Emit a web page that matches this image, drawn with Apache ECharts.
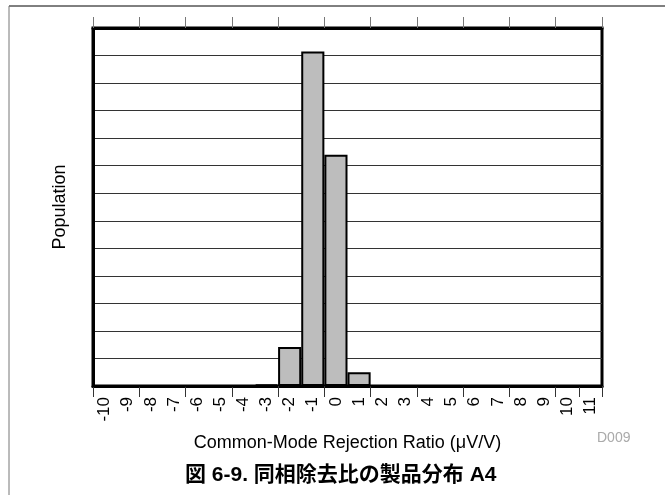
<!DOCTYPE html>
<html>
<head>
<meta charset="utf-8">
<script src="https://cdn.jsdelivr.net/npm/echarts@6/dist/echarts.min.js"></script>
<style>
  html, body { margin: 0; padding: 0; background: #fff; }
  #chart { width: 665px; height: 495px; }
</style>
</head>
<body>
<div id="chart"></div>
<script>
// bins of the histogram (uV/V)
var categories = ['-10','-9','-8','-7','-6','-5','-4','-3','-2','-1','0','1','2','3','4','5','6','7','8','9','10','11'];
// population per bin, read in grid units (13 divisions, no tick labels)
var population = [0, 0, 0, 0, 0, 0, 0, 0.05, 1.42, 12.15, 8.4, 0.5, 0, 0, 0, 0, 0, 0, 0, 0, 0, 0];

var font = '"Liberation Sans", Arial, sans-serif';

var dom = document.getElementById('chart');
var myChart = echarts.init(dom);
var option = {
    backgroundColor: '#fff',
    animation: false,
    grid: {
        left: 93,
        right: 63,
        top: 28,
        bottom: 109,
        show: true,
        borderColor: '#000',
        borderWidth: 3
    },
    xAxis: [
        {
            type: 'category',
            position: 'bottom',
            data: categories,
            boundaryGap: true,
            axisLine: { show: true, lineStyle: { color: '#000', width: 3 } },
            axisTick: { show: true, interval: 1, length: 11, lineStyle: { color: '#333', width: 1 } },
            axisLabel: { interval: 0, rotate: 90, margin: 11, fontSize: 17, color: '#000', fontFamily: font },
            name: 'Common-Mode Rejection Ratio (\u03BCV/V)',
            nameLocation: 'middle',
            nameGap: 48,
            nameTextStyle: { fontSize: 18, color: '#000', fontFamily: font }
        },
        {
            type: 'category',
            position: 'top',
            data: categories,
            boundaryGap: true,
            axisLine: { show: true, lineStyle: { color: '#000', width: 3 } },
            axisTick: { show: true, interval: 1, length: 11, lineStyle: { color: '#777', width: 1 } },
            axisLabel: { show: false }
        }
    ],
    yAxis: {
        type: 'value',
        min: 0,
        max: 13,
        interval: 1,
        axisLine: { show: true, lineStyle: { color: '#000', width: 3 } },
        axisTick: { show: false },
        axisLabel: { show: false },
        splitLine: { show: true, lineStyle: { color: '#333', width: 1 } },
        name: 'Population',
        nameLocation: 'middle',
        nameGap: 24,
        nameRotate: 90,
        nameTextStyle: { fontSize: 18, color: '#000', fontFamily: font }
    },
    series: [
        {
            name: 'Population',
            type: 'bar',
            data: population,
            barCategoryGap: '0%',
            itemStyle: { color: '#bdbdbd', borderColor: '#000', borderWidth: 2 }
        }
    ],
    graphic: [
        {
            type: 'line',
            shape: { x1: 9, y1: 6, x2: 665, y2: 6 },
            style: { stroke: '#000', lineWidth: 1 }
        },
        {
            type: 'line',
            shape: { x1: 9, y1: 6, x2: 9, y2: 495 },
            style: { stroke: '#777', lineWidth: 1 }
        },
        {
            type: 'text',
            left: 597,
            top: 431,
            style: { text: 'D009', fontSize: 14, fill: '#aaa', fontFamily: font }
        },
        {
            type: 'text',
            left: 185,
            top: 465,
            style: {
                text: '図 6-9. 同相除去比の製品分布 A4',
                fontSize: 21,
                fontWeight: 'bold',
                fill: '#000',
                fontFamily: '"Liberation Sans", "Noto Sans CJK JP", sans-serif'
            }
        }
    ]
};
myChart.setOption(option);
</script>
</body>
</html>
